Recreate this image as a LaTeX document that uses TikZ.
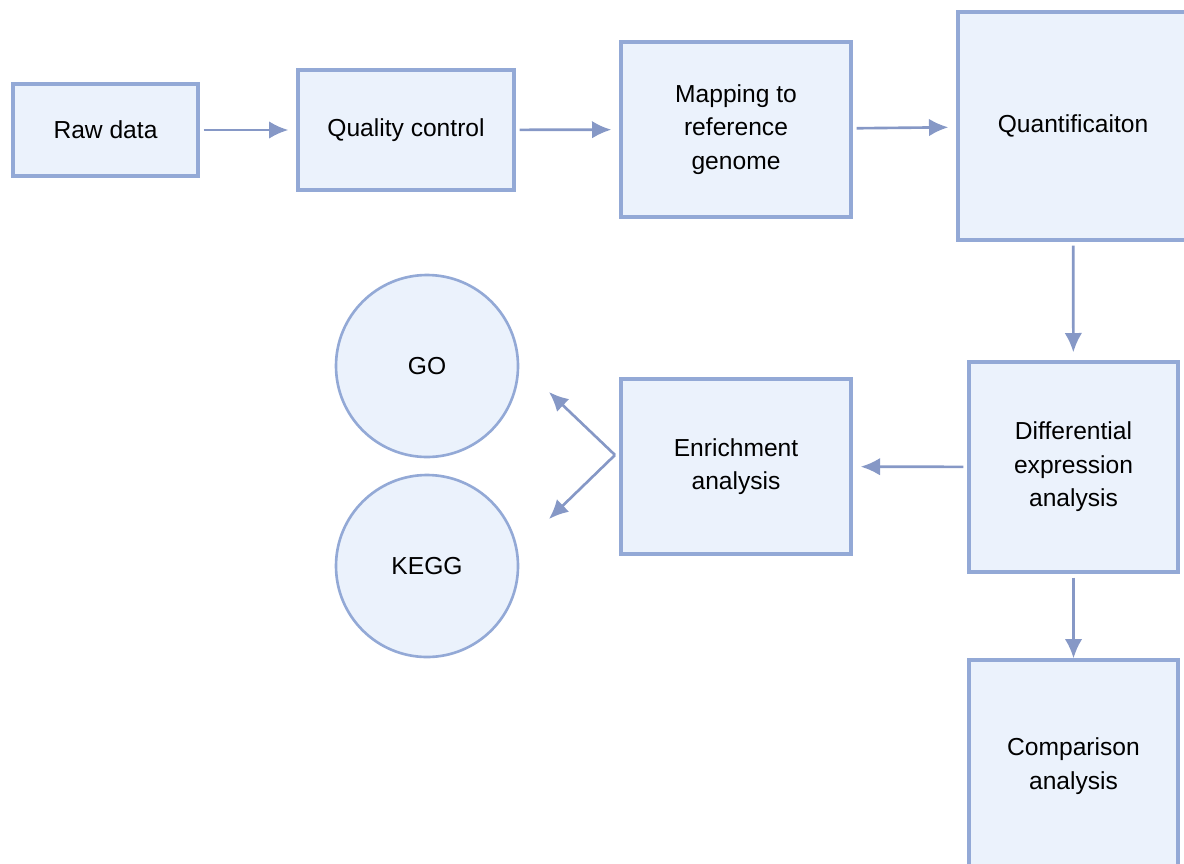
\documentclass[tikz,border=0pt]{standalone}
\usepackage{fontspec}
\setmainfont{Liberation Sans}
\usepackage{tikz}
\usetikzlibrary{shapes,arrows.meta}

\definecolor{boxfill}{HTML}{EBF2FC}
\definecolor{boxline}{HTML}{93A9D6}
\definecolor{arrline}{HTML}{8698C6}

\begin{document}
\begin{tikzpicture}[
    box/.style={draw=boxline, fill=boxfill, line width=1.9pt, align=center, inner sep=0pt,
      font=\fontsize{14}{19}\selectfont},
    circ/.style={draw=boxline, fill=boxfill, line width=1.5pt, circle, inner sep=0pt,
      minimum size=3.64cm, font=\fontsize{14}{19}\selectfont},
    flow/.style={draw=arrline, line width=1.5pt, ->, >={Latex[length=11pt,width=10pt]},
      shorten <=0.08cm, shorten >=0.16cm}
  ]
    \useasboundingbox (0,0) rectangle (23.68,-17.26);
    \node[box, minimum width=3.7cm, minimum height=1.84cm] (raw) at (2.11,-2.6) {Raw data};
    \node[box, minimum width=4.32cm, minimum height=2.4cm] (qc) at (8.12,-2.6) {Quality control};
    \node[box, minimum width=4.6cm, minimum height=3.5cm] (map) at (14.72,-2.59) {Mapping to\\reference\\genome};
    \node[box, minimum width=4.6cm, minimum height=4.56cm] (quant) at (21.46,-2.52) {Quantificaiton};
    \node[box, minimum width=4.18cm, minimum height=4.2cm] (diff) at (21.47,-9.34) {Differential\\expression\\analysis};
    \node[box, minimum width=4.6cm, minimum height=3.5cm] (enrich) at (14.72,-9.33) {Enrichment\\analysis};
    \node[box, minimum width=4.18cm, minimum height=4.24cm] (comp) at (21.47,-15.32) {Comparison\\analysis};
    \node[circ] (go) at (8.54,-7.32) {GO};
    \node[circ] (kegg) at (8.54,-11.32) {KEGG};

    % fork from enrichment to GO / KEGG
    \coordinate (fork) at (12.3,-9.1);
    \coordinate (goend) at (10.98,-7.84);
    \coordinate (keggend) at (10.98,-10.38);

    \draw[flow] (raw) -- (qc);
    \draw[flow] (qc) -- (map);
    \draw[flow] (map) -- (quant);
    \draw[flow] (quant) -- (diff);
    \draw[flow] (diff) -- (enrich);
    \draw[flow, shorten >=0pt] (diff) -- (comp);
    \draw[flow, shorten <=0pt, shorten >=0pt] (fork) -- (goend);
    \draw[flow, shorten <=0pt, shorten >=0pt] (fork) -- (keggend);
  \end{tikzpicture}
\end{document}
